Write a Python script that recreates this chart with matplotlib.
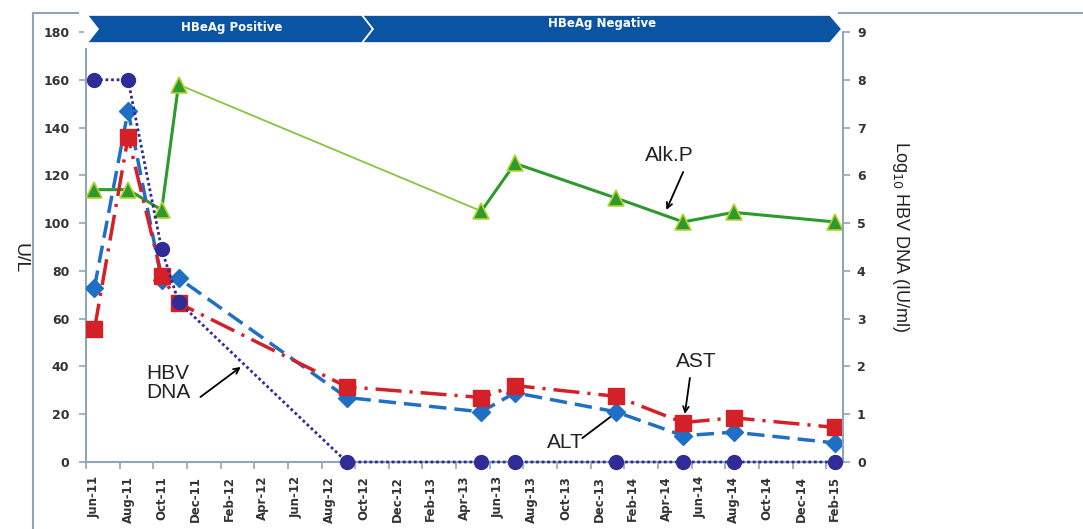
import numpy as np
import pandas as pd
import matplotlib
matplotlib.use("Agg")
import matplotlib.pyplot as plt
from matplotlib.patches import Polygon, Rectangle
from matplotlib.lines import Line2D

# sampling months (Excel date axis, one slot per month)
months = ["Jun-11", "Aug-11", "Oct-11", "Nov-11", "Sep-12", "May-13",
          "Jul-13", "Jan-14", "May-14", "Aug-14", "Feb-15"]
alt = [73, 147, 76, 77, 27, 21, 29, 21, 11, 12.5, 8]
ast = [55.5, 136, 78, 66.5, 31.5, 27, 32, 27.5, 16.5, 18.5, 14.5]
alk_p = [114, 114, 105.5, 158, np.nan, 105, 125, 110.5, 100.5, 104.5, 100.5]
hbv_dna = [8, 8, 4.45, 3.35, 0, 0, 0, 0, 0, 0, 0]  # log10 IU/ml

tick_labels = ["Jun-11", "Aug-11", "Oct-11", "Dec-11", "Feb-12", "Apr-12",
               "Jun-12", "Aug-12", "Oct-12", "Dec-12", "Feb-13", "Apr-13",
               "Jun-13", "Aug-13", "Oct-13", "Dec-13", "Feb-14", "Apr-14",
               "Jun-14", "Aug-14", "Oct-14", "Dec-14", "Feb-15"]
phases = ["HBeAg Positive", "HBeAg Negative"]

W, H = 1083, 529


def px(x, y):
    # figure pixel (top-left origin) -> figure fraction
    return (x / W, 1 - y / H)


def month_index(labels):
    d = pd.to_datetime(labels, format="%b-%y")
    return np.array([(t.year - 2011) * 12 + t.month - 6 for t in d])


x = month_index(months) + 0.5
xt = month_index(tick_labels)
n_months = xt[-1] + 1

axis_col = "#8FA5B8"
txt_col = "#333333"

fig = plt.figure(figsize=(W / 100, H / 100), dpi=100)
ax = fig.add_axes([86 / W, 1 - 462 / H, (843 - 86) / W, (462 - 32) / H])
ax2 = ax.twinx()

# Alk P: thin connector across the missing sample, thick line elsewhere
alk = np.array(alk_p, dtype=float)
ok = ~np.isnan(alk)
ax.plot(x[ok], alk[ok], color="#86C540", lw=1.3, zorder=2)
ax.plot(x, alk, color="#2E9A2E", lw=2.2, marker="^", ms=11,
        mfc="#2E9A2E", mec="#B5D334", mew=1.2, zorder=3)

ax.plot(x, alt, color="#1F6FC5", lw=2.5, ls=(0, (5, 2.3)),
        marker="D", ms=9, mfc="#1F6FC5", mec="#1F6FC5", zorder=4)
ax.plot(x, ast, color="#D42027", lw=2.5, ls=(0, (7.5, 2.3, 0.9, 2.3)),
        marker="s", ms=11.5, mfc="#D42027", mec="#D42027", zorder=5)

ax2.plot(x, hbv_dna, color="#2F2C98", lw=2, ls=(0, (1, 1)),
         marker="o", ms=10, mfc="#2F2C98", mec="#2F2C98", zorder=6,
         clip_on=False)

ax.set_xlim(0, n_months)
ax.set_ylim(0, 180)
ax2.set_ylim(0, 9)

# ticks at slot boundaries, labels at slot centres
ax.set_xticks(xt)
ax.set_xticklabels([])
ax.set_xticks(xt + 0.5, minor=True)
ax.set_xticklabels(tick_labels, minor=True, rotation=90, fontsize=8.5,
                   fontweight="bold", color=txt_col)
ax.tick_params(axis="x", which="major", length=5, color=axis_col, width=1.2)
ax.tick_params(axis="x", which="minor", length=0, pad=10)

ax.set_yticks(np.arange(0, 181, 20))
ax.tick_params(axis="y", length=5, color=axis_col, width=1.2, pad=7,
               labelsize=9, labelcolor=txt_col)
for t in ax.get_yticklabels():
    t.set_fontweight("bold")
ax2.set_yticks(np.arange(0, 10, 1))
ax2.tick_params(axis="y", length=5, color=axis_col, width=1.2, pad=5,
                labelsize=9, labelcolor=txt_col)
for t in ax2.get_yticklabels():
    t.set_fontweight("bold")

for a in (ax, ax2):
    a.spines["top"].set_visible(False)
    for s in ("left", "right", "bottom"):
        a.spines[s].set_color(axis_col)
        a.spines[s].set_linewidth(1.5)
ax.spines["right"].set_visible(False)
ax2.spines["left"].set_visible(False)
ax2.spines["bottom"].set_visible(False)

lab_font = "Liberation Sans"
fig.text(*px(20, 258), "U/L", rotation=270, ha="center", va="center",
         fontsize=14, family=lab_font, color="#222222")
fig.text(*px(900, 237), "Log$_{10}$ HBV DNA (IU/ml)", rotation=270,
         ha="center", va="center", fontsize=13, family=lab_font,
         color="#222222")

# annotations
arrow = dict(arrowstyle="->", lw=1.3, color="black",
             shrinkA=0, shrinkB=0)
ann_font = dict(fontsize=15, family=lab_font, color="#222222")
ax.text(34.7, 128.5, "Alk.P", ha="center", va="center", **ann_font)
ax.annotate("", xy=(34.5, 105.5), xytext=(35.5, 121.4), arrowprops=arrow)
ax.text(36.3, 42, "AST", ha="center", va="center", **ann_font)
ax.annotate("", xy=(35.6, 20.1), xytext=(35.9, 35.2), arrowprops=arrow)
ax.text(28.5, 8, "ALT", ha="center", va="center", **ann_font)
ax.annotate("", xy=(31.8, 22.2), xytext=(29.5, 10), arrowprops=arrow)
ax.text(3.6, 33, "HBV\nDNA", ha="left", va="center", linespacing=1.0,
        **ann_font)
ax.annotate("", xy=(9.2, 39.8), xytext=(6.8, 27.2), arrowprops=arrow)

# chart-area border pieces
for seg in ([(33, 13), (33, 529)], [(33, 13), (78, 13)],
            [(833, 13), (1083, 13)]):
    (x0, y0), (x1, y1) = px(*seg[0]), px(*seg[1])
    fig.add_artist(Line2D([x0, x1], [y0, y1], color=axis_col, lw=1.5,
                          zorder=4))

# phase banner
bx, by = px(84, 48)
bw = (838 - 84) / W
bh = (48 - 8) / H
fig.add_artist(Rectangle((bx, by), bw, bh, transform=fig.transFigure,
                         facecolor="white", edgecolor="none", zorder=5))
chevrons = [
    [(87, 15), (362, 15), (373, 29), (362, 43), (87, 43), (98, 29)],
    [(362, 15), (830, 15), (842, 29), (830, 43), (362, 43), (373, 29)],
]
label_pos = [(232, 28), (602, 23)]
for pts, name, (tx, ty) in zip(chevrons, phases, label_pos):
    fig.add_artist(Polygon([px(*p) for p in pts], closed=True,
                           transform=fig.transFigure, facecolor="#0B54A4",
                           edgecolor="white", lw=1.2, zorder=6))
    fig.text(*px(tx, ty), name, ha="center", va="center", fontsize=8.5,
             fontweight="bold", color="white", zorder=7)

fig.savefig("out.png", dpi=100)
